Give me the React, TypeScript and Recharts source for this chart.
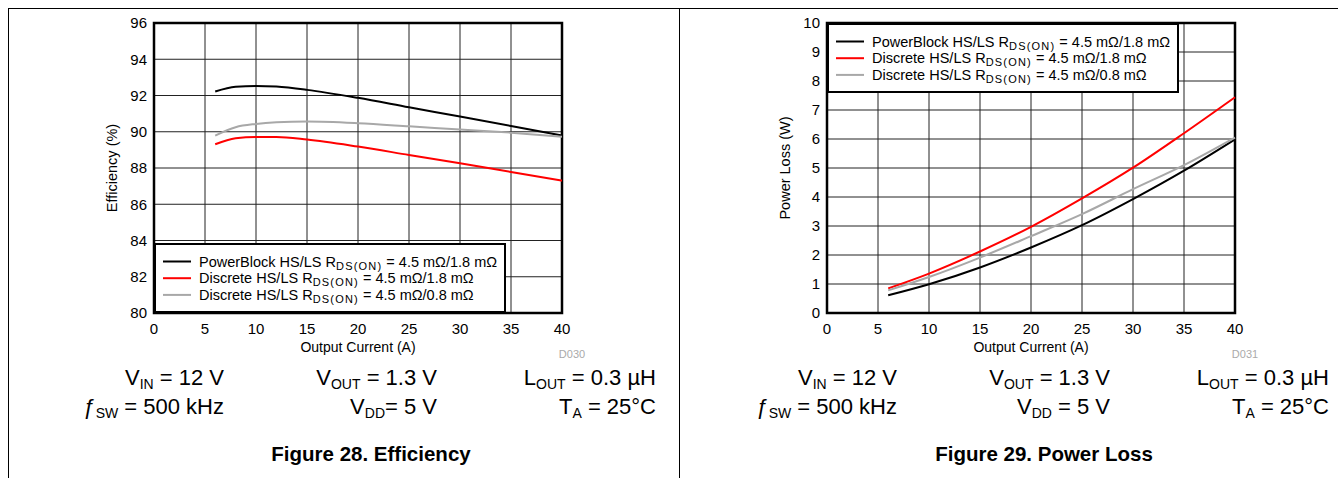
import {
  CartesianGrid,
  Legend,
  Line,
  LineChart,
  ReferenceArea,
  XAxis,
  YAxis,
} from "recharts";

const FONT = "Arial, 'Liberation Sans', Helvetica, sans-serif";

// Figure 28 – efficiency vs output current
const effCurrent = [6, 8, 10, 12, 15, 20, 25, 30, 35, 40];
const effPowerBlock = [92.22, 92.48, 92.53, 92.49, 92.31, 91.87, 91.35, 90.84, 90.32, 89.79];
const effDiscrete18 = [89.31, 89.64, 89.71, 89.71, 89.57, 89.18, 88.72, 88.26, 87.78, 87.3];
const effDiscrete08 = [89.79, 90.25, 90.43, 90.52, 90.56, 90.47, 90.3, 90.12, 89.95, 89.73];

// Figure 29 – power loss vs output current
const lossCurrent = [6, 10, 15, 20, 25, 30, 35, 40];
const lossPowerBlock = [0.61, 0.99, 1.57, 2.26, 3.03, 3.93, 4.91, 5.99];
const lossDiscrete18 = [0.85, 1.36, 2.12, 2.97, 3.95, 5.01, 6.2, 7.44];
const lossDiscrete08 = [0.78, 1.24, 1.91, 2.65, 3.41, 4.27, 5.1, 6.05];

const currentTicks = [0, 5, 10, 15, 20, 25, 30, 35, 40];
const effTicks = [80, 82, 84, 86, 88, 90, 92, 94, 96];
const lossTicks = [0, 1, 2, 3, 4, 5, 6, 7, 8, 9, 10];

const seriesKeys = ["powerBlock", "discrete18", "discrete08"];
const seriesNames = ["PowerBlock HS/LS R", "Discrete HS/LS R", "Discrete HS/LS R"];
const seriesRds = ["4.5 mΩ/1.8 mΩ", "4.5 mΩ/1.8 mΩ", "4.5 mΩ/0.8 mΩ"];
const seriesColors = ["#000000", "#ff0000", "#a8a8a8"];

type Cond = { main: string; sub: string; rest: string };
const condRow1: Cond[] = [
  { main: "V", sub: "IN", rest: " = 12 V" },
  { main: "V", sub: "OUT", rest: " = 1.3 V" },
  { main: "L", sub: "OUT", rest: " = 0.3 µH" },
];
const condRow2Eff: Cond[] = [
  { main: "ƒ", sub: "SW", rest: " = 500 kHz" },
  { main: "V", sub: "DD", rest: "= 5 V" },
  { main: "T", sub: "A", rest: " = 25°C" },
];
const condRow2Loss: Cond[] = [
  { main: "ƒ", sub: "SW", rest: " = 500 kHz" },
  { main: "V", sub: "DD", rest: " = 5 V" },
  { main: "T", sub: "A", rest: " = 25°C" },
];

const effData = effCurrent.map((current, i) => ({
  current,
  powerBlock: effPowerBlock[i],
  discrete18: effDiscrete18[i],
  discrete08: effDiscrete08[i],
}));

const lossData = lossCurrent.map((current, i) => ({
  current,
  powerBlock: lossPowerBlock[i],
  discrete18: lossDiscrete18[i],
  discrete08: lossDiscrete08[i],
}));

function LegendBox() {
  return (
    <svg width={352} height={70} style={{ display: "block" }}>
      <rect x={1} y={1} width={350} height={68} fill="#fff" stroke="#000" strokeWidth={2} />
      {seriesKeys.map((key, i) => {
        const base = 23.5 + i * 16.7;
        return (
          <g key={key}>
            <line x1={9} x2={37} y1={base - 5} y2={base - 5} stroke={seriesColors[i]} strokeWidth={2} />
            <text x={45} y={base} fontSize={14.5} fontFamily={FONT} fill="#000">
              {seriesNames[i]}
              <tspan fontSize={11} letterSpacing={1.2} dy={3}>
                DS(ON)
              </tspan>
              <tspan dy={-3}>{" = " + seriesRds[i]}</tspan>
            </text>
          </g>
        );
      })}
    </svg>
  );
}

type PanelProps = {
  data: typeof effData;
  yTicks: number[];
  yLabel: string;
  legendTop: number;
  left: number;
};

function Panel({ data, yTicks, yLabel, legendTop, left }: PanelProps) {
  const yMin = yTicks[0];
  const yMax = yTicks[yTicks.length - 1];
  return (
    <div style={{ position: "absolute", left, top: 0 }}>
      <LineChart
        width={600}
        height={360}
        data={data}
        margin={{ top: 23, right: 38, left: 100, bottom: 3 }}
      >
        <CartesianGrid stroke="#222" strokeWidth={1} />
        <XAxis
          dataKey="current"
          type="number"
          domain={[0, 40]}
          ticks={currentTicks}
          interval={0}
          axisLine={false}
          tickLine={false}
          tickSize={0}
          tickMargin={10}
          height={44}
          tick={{ fill: "#000", fontSize: 15, fontFamily: FONT }}
          label={{
            value: "Output Current (A)",
            position: "insideBottom",
            offset: 5,
            fill: "#000",
            fontSize: 14,
            fontFamily: FONT,
          }}
        />
        <YAxis
          type="number"
          domain={[yMin, yMax]}
          ticks={yTicks}
          interval={0}
          width={54}
          axisLine={false}
          tickLine={false}
          tickSize={0}
          tickMargin={7}
          tick={{ fill: "#000", fontSize: 15, fontFamily: FONT }}
          label={{
            value: yLabel,
            angle: -90,
            position: "insideLeft",
            offset: 12,
            fill: "#000",
            fontSize: 14.5,
            fontFamily: FONT,
            style: { textAnchor: "middle" },
          }}
        />
        <ReferenceArea
          x1={0}
          x2={40}
          y1={yMin}
          y2={yMax}
          fill="none"
          stroke="#000"
          strokeWidth={2.5}
          ifOverflow="visible"
        />
        {seriesKeys.map((key, i) => (
          <Line
            key={key}
            dataKey={key}
            type="monotone"
            stroke={seriesColors[i]}
            strokeWidth={2}
            dot={false}
            activeDot={false}
            isAnimationActive={false}
          />
        ))}
        <Legend
          layout="horizontal"
          verticalAlign="middle"
          align="center"
          wrapperStyle={{ left: 154, top: legendTop, width: 352, height: 70 }}
          content={() => <LegendBox />}
        />
      </LineChart>
    </div>
  );
}

function CondText({ c, x, y }: { c: Cond; x: number; y: number }) {
  return (
    <text x={x} y={y} textAnchor="end" fontSize={22} fontFamily={FONT} fill="#000">
      {c.main}
      <tspan fontSize={14} dy={4}>
        {c.sub}
      </tspan>
      <tspan dy={-4}>{c.rest}</tspan>
    </text>
  );
}

const colRight = [224, 437, 656];

function Captions({ dx, row2, code, title }: { dx: number; row2: Cond[]; code: string; title: string }) {
  return (
    <g>
      <text x={dx + 572} y={358} textAnchor="middle" fontSize={11} fontFamily={FONT} fill="#aaa">
        {code}
      </text>
      {condRow1.map((c, i) => (
        <CondText key={"r1" + i} c={c} x={dx + colRight[i]} y={384.5} />
      ))}
      {row2.map((c, i) => (
        <CondText key={"r2" + i} c={c} x={dx + colRight[i]} y={414} />
      ))}
      <text
        x={dx + 371}
        y={461}
        textAnchor="middle"
        fontSize={20.5}
        fontWeight="bold"
        fontFamily={FONT}
        fill="#000"
      >
        {title}
      </text>
    </g>
  );
}

export default function App() {
  return (
    <div
      style={{
        position: "absolute",
        left: 0,
        top: 0,
        width: 1338,
        height: 478,
        background: "#fff",
        overflow: "hidden",
        fontFamily: FONT,
      }}
    >
      <svg width={1338} height={478} style={{ position: "absolute", left: 0, top: 0 }}>
        <line x1={8} x2={1338} y1={8.5} y2={8.5} stroke="#000" strokeWidth={1} />
        <line x1={8.5} x2={8.5} y1={8} y2={478} stroke="#000" strokeWidth={1} />
        <line x1={679.5} x2={679.5} y1={8} y2={478} stroke="#000" strokeWidth={1} />
        <Captions dx={0} row2={condRow2Eff} code="D030" title="Figure 28. Efficiency" />
        <Captions dx={673} row2={condRow2Loss} code="D031" title="Figure 29. Power Loss" />
      </svg>
      <Panel data={effData} yTicks={effTicks} yLabel="Efficiency (%)" legendTop={243} left={0} />
      <Panel data={lossData} yTicks={lossTicks} yLabel="Power Loss (W)" legendTop={23} left={673} />
    </div>
  );
}
